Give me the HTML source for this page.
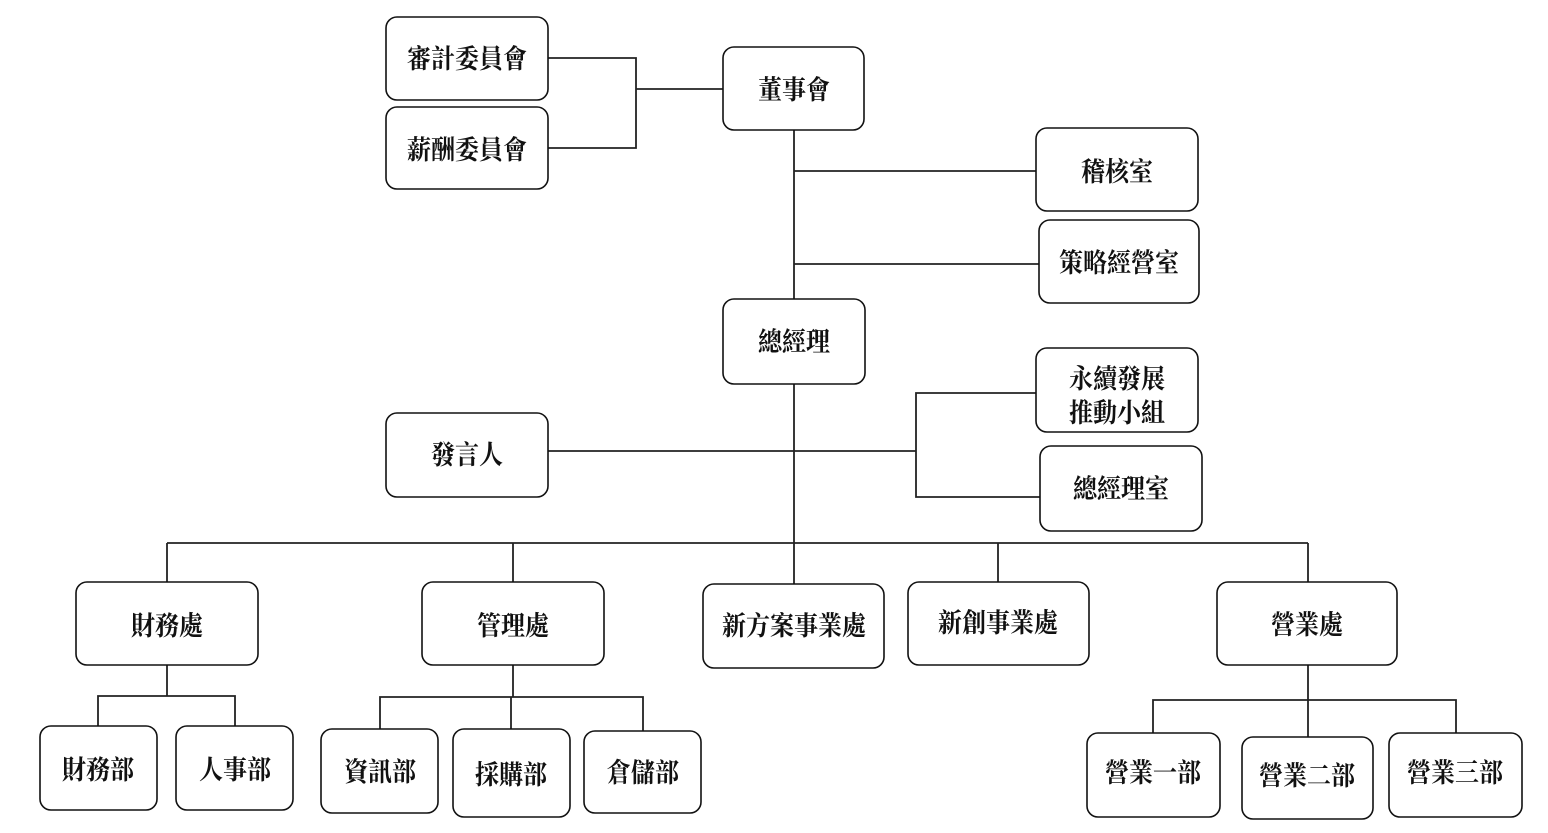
<!DOCTYPE html>
<html>
<head>
<meta charset="utf-8">
<style>
html,body{margin:0;padding:0;background:#fff;}
svg{display:block;}
text{font-family:"Liberation Serif","Noto Serif CJK SC","Noto Serif CJK TC",serif;font-weight:bold;font-size:24px;fill:#111;transform-box:fill-box;transform-origin:center;transform:scaleY(1.12);}
</style>
</head>
<body>
<svg width="1548" height="833" viewBox="0 0 1548 833" xmlns="http://www.w3.org/2000/svg">
<g stroke="#222" stroke-width="1.8" fill="none">
  <polyline points="548,58 636,58 636,148 548,148"/>
  <line x1="636" y1="89" x2="723" y2="89"/>
  <line x1="794" y1="130" x2="794" y2="299"/>
  <line x1="794" y1="171" x2="1036" y2="171"/>
  <line x1="794" y1="264" x2="1039" y2="264"/>
  <line x1="794" y1="384" x2="794" y2="543"/>
  <line x1="548" y1="451" x2="916" y2="451"/>
  <polyline points="1036,393 916,393 916,497 1040,497"/>
  <line x1="167" y1="543" x2="1308" y2="543"/>
  <line x1="167" y1="543" x2="167" y2="582"/>
  <line x1="513" y1="543" x2="513" y2="582"/>
  <line x1="794" y1="543" x2="794" y2="584"/>
  <line x1="998" y1="543" x2="998" y2="582"/>
  <line x1="1308" y1="543" x2="1308" y2="582"/>
  <line x1="167" y1="665" x2="167" y2="696"/>
  <polyline points="98,726 98,696 235,696 235,726"/>
  <line x1="513" y1="665" x2="513" y2="697"/>
  <polyline points="380,729 380,697 643,697 643,731"/>
  <line x1="511" y1="697" x2="511" y2="729"/>
  <line x1="1308" y1="665" x2="1308" y2="737"/>
  <polyline points="1153,733 1153,700 1456,700 1456,733"/>
</g>
<g stroke="#111" stroke-width="1.6" fill="#fff">
  <rect x="386" y="17" width="162" height="83" rx="11"/>
  <rect x="386" y="107" width="162" height="82" rx="11"/>
  <rect x="723" y="47" width="141" height="83" rx="11"/>
  <rect x="1036" y="128" width="162" height="83" rx="11"/>
  <rect x="1039" y="220" width="160" height="83" rx="11"/>
  <rect x="723" y="299" width="142" height="85" rx="11"/>
  <rect x="1036" y="348" width="162" height="84" rx="11"/>
  <rect x="386" y="413" width="162" height="84" rx="11"/>
  <rect x="1040" y="446" width="162" height="85" rx="11"/>
  <rect x="76" y="582" width="182" height="83" rx="11"/>
  <rect x="422" y="582" width="182" height="83" rx="11"/>
  <rect x="703" y="584" width="181" height="84" rx="11"/>
  <rect x="908" y="582" width="181" height="83" rx="11"/>
  <rect x="1217" y="582" width="180" height="83" rx="11"/>
  <rect x="40" y="726" width="117" height="84" rx="11"/>
  <rect x="176" y="726" width="117" height="84" rx="11"/>
  <rect x="321" y="729" width="117" height="84" rx="11"/>
  <rect x="453" y="729" width="117" height="88" rx="11"/>
  <rect x="584" y="731" width="117" height="82" rx="11"/>
  <rect x="1087" y="733" width="133" height="84" rx="11"/>
  <rect x="1242" y="737" width="131" height="82" rx="11"/>
  <rect x="1389" y="733" width="133" height="84" rx="11"/>
</g>
<g text-anchor="middle" dominant-baseline="central">
  <text x="467" y="59">審計委員會</text>
  <text x="467" y="150">薪酬委員會</text>
  <text x="794" y="90">董事會</text>
  <text x="1117" y="172">稽核室</text>
  <text x="1119" y="263">策略經營室</text>
  <text x="794" y="342">總經理</text>
  <text x="1117" y="379">永續發展</text>
  <text x="1117" y="413">推動小組</text>
  <text x="467" y="455">發言人</text>
  <text x="1121" y="489">總經理室</text>
  <text x="167" y="626">財務處</text>
  <text x="513" y="626">管理處</text>
  <text x="794" y="626">新方案事業處</text>
  <text x="998" y="623">新創事業處</text>
  <text x="1307" y="625">營業處</text>
  <text x="98" y="770">財務部</text>
  <text x="235" y="770">人事部</text>
  <text x="380" y="772">資訊部</text>
  <text x="511" y="775">採購部</text>
  <text x="643" y="773">倉儲部</text>
  <text x="1153" y="773">營業一部</text>
  <text x="1307" y="776">營業二部</text>
  <text x="1455" y="773">營業三部</text>
</g>
</svg>
</body>
</html>
